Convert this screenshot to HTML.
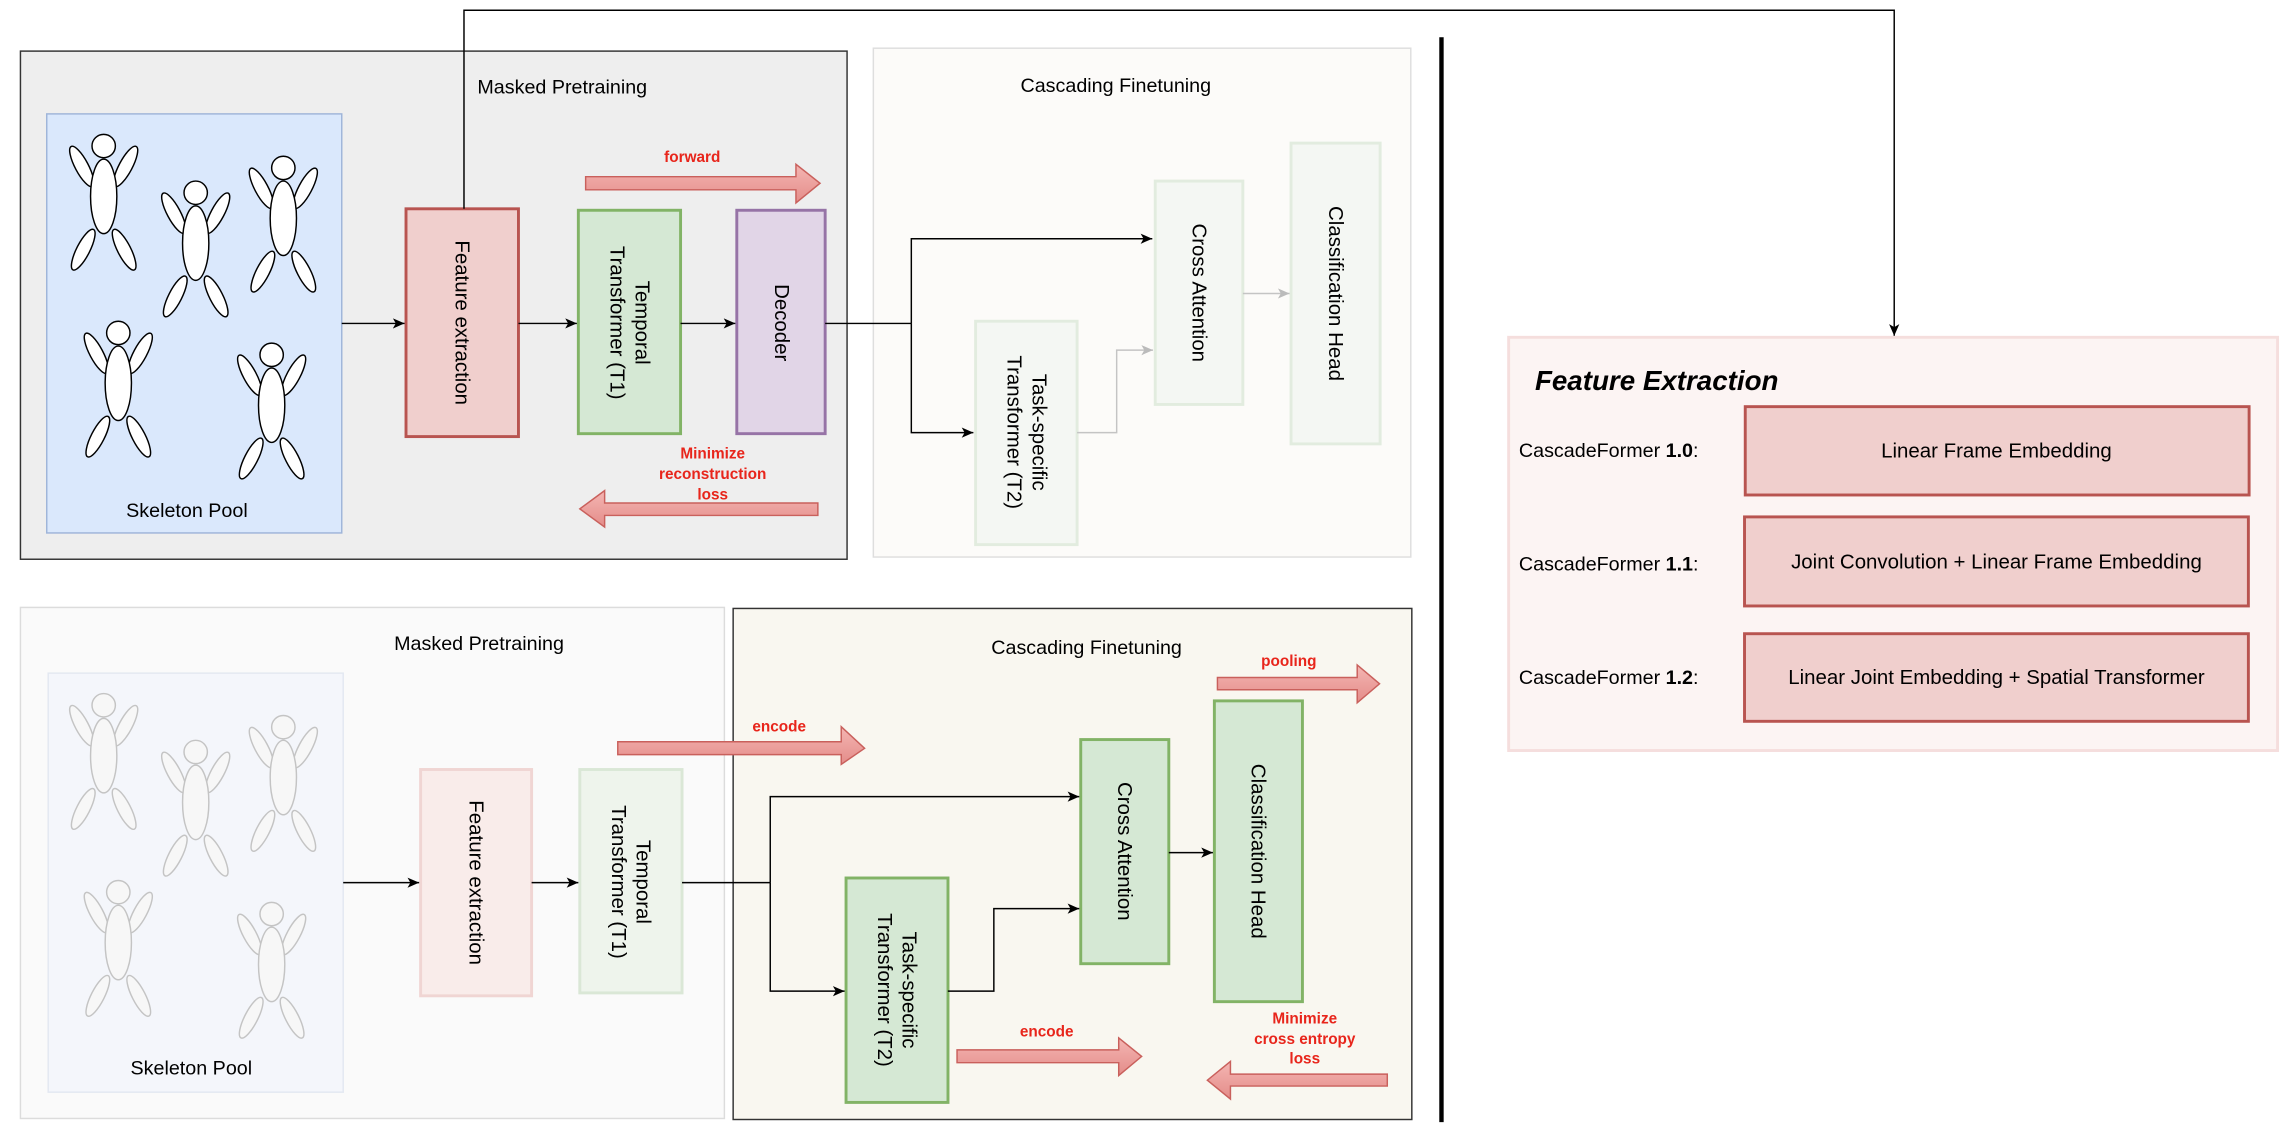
<!DOCTYPE html>
<html><head><meta charset="utf-8"><style>
html,body{margin:0;padding:0;background:#fff;}
svg{display:block;font-family:"Liberation Sans",Arial,sans-serif;}
</style></head><body>
<svg width="2290" height="1136" viewBox="0 0 1568 778" preserveAspectRatio="none" xmlns="http://www.w3.org/2000/svg">
<defs>
<marker id="ab" markerWidth="9" markerHeight="8" refX="8" refY="3.5" orient="auto" markerUnits="userSpaceOnUse"><path d="M0,0 L8,3.5 L0,7 L2,3.5 z" fill="#000"/></marker>
<marker id="ag" markerWidth="9" markerHeight="8" refX="8" refY="3.5" orient="auto" markerUnits="userSpaceOnUse"><path d="M0,0 L8,3.5 L0,7 L2,3.5 z" fill="#bbb"/></marker>
<linearGradient id="rg" x1="0" y1="0" x2="0" y2="1"><stop offset="0" stop-color="#f4b6b3"/><stop offset="1" stop-color="#e48c89"/></linearGradient>
<g id="fig">
<ellipse cx="-15" cy="14" rx="4.5" ry="15.5" transform="rotate(-28 -15 14)"/>
<ellipse cx="15" cy="14" rx="4.5" ry="15.5" transform="rotate(28 15 14)"/>
<ellipse cx="-14" cy="71" rx="4.5" ry="15.5" transform="rotate(27 -14 71)"/>
<ellipse cx="14" cy="71" rx="4.5" ry="15.5" transform="rotate(-27 14 71)"/>
<ellipse cx="0" cy="34.5" rx="9" ry="25.5"/>
<circle cx="0" cy="0" r="8"/>
</g>
</defs>

<!-- top-left panel -->
<rect x="14" y="35" width="566" height="348" fill="#eeeeee" stroke="#333" stroke-width="1"/>
<text x="385" y="64" font-size="13.5" text-anchor="middle">Masked Pretraining</text>
<rect x="32" y="78" width="202" height="287" fill="#dae8fc" stroke="#9fb5d9" stroke-width="1"/>
<g fill="#fff" stroke="#000" stroke-width="1">
<use href="#fig" x="71" y="100"/>
<use href="#fig" x="134" y="132"/>
<use href="#fig" x="194" y="115"/>
<use href="#fig" x="81" y="228"/>
<use href="#fig" x="186" y="243"/>
</g>
<text x="128" y="354" font-size="13.5" text-anchor="middle">Skeleton Pool</text>

<!-- top-right panel -->
<rect x="598" y="33" width="368" height="348.5" fill="#fcfbf9" stroke="#dedede" stroke-width="1"/>
<text x="764" y="63" font-size="13.5" text-anchor="middle">Cascading Finetuning</text>
<rect x="791" y="124" width="60" height="153" fill="#f4f7f3" stroke="#e2ecdf" stroke-width="2"/>
<text transform="translate(821,200.5) rotate(90)" font-size="14" text-anchor="middle" dominant-baseline="central">Cross Attention</text>
<rect x="884" y="98" width="61" height="206" fill="#f4f7f3" stroke="#e2ecdf" stroke-width="2"/>
<text transform="translate(914.5,201) rotate(90)" font-size="14" text-anchor="middle" dominant-baseline="central">Classification Head</text>
<rect x="668" y="220" width="69.5" height="153" fill="#f4f7f3" stroke="#e2ecdf" stroke-width="2"/>
<text transform="translate(703,296) rotate(90)" font-size="14" text-anchor="middle"><tspan x="0" y="-4">Task-specific</tspan><tspan x="0" y="13">Transformer (T2)</tspan></text>
<g stroke="#c4c4c4" stroke-width="1" fill="none">
<polyline points="737.5,296.3 764.6,296.3 764.6,239.8 789.5,239.8" marker-end="url(#ag)"/>
<line x1="851" y1="201" x2="883" y2="201" marker-end="url(#ag)"/>
</g>

<rect x="278" y="143" width="77" height="156" fill="#f0cfcd" stroke="#b85450" stroke-width="2"/>
<text transform="translate(316.5,221) rotate(90)" font-size="14" text-anchor="middle" dominant-baseline="central">Feature extraction</text>
<rect x="396" y="144" width="70" height="153" fill="#d5e8d4" stroke="#82b366" stroke-width="2"/>
<text transform="translate(431,221) rotate(90)" font-size="14" text-anchor="middle"><tspan x="0" y="-4">Temporal</tspan><tspan x="0" y="13">Transformer (T1)</tspan></text>
<rect x="504.5" y="144" width="60.5" height="153" fill="#e1d5e7" stroke="#9673a6" stroke-width="2"/>
<text transform="translate(535,221) rotate(90)" font-size="14" text-anchor="middle" dominant-baseline="central">Decoder</text>

<g stroke="#000" stroke-width="1" fill="none">
<line x1="234" y1="221.5" x2="277" y2="221.5" marker-end="url(#ab)"/>
<line x1="355" y1="221.5" x2="395" y2="221.5" marker-end="url(#ab)"/>
<line x1="466" y1="221.5" x2="503.5" y2="221.5" marker-end="url(#ab)"/>
<polyline points="565,221.5 624,221.5"/>
<polyline points="624,221.5 624,163.5 789,163.5" marker-end="url(#ab)"/>
<polyline points="624,221.5 624,296.3 666.5,296.3" marker-end="url(#ab)"/>
<polyline points="317.7,143 317.7,7 1297,7 1297,230" marker-end="url(#ab)"/>
</g>

<text x="474" y="111" font-size="10.5" font-weight="bold" fill="#e8251b" text-anchor="middle">forward</text>
<path d="M401,121 L545,121 L545,112.5 L561.5,125.5 L545,139 L545,130 L401,130 z" fill="url(#rg)" stroke="#c9605c" stroke-width="1"/>
<text font-size="10.5" font-weight="bold" fill="#e8251b" text-anchor="middle"><tspan x="488" y="314">Minimize</tspan><tspan x="488" y="328">reconstruction</tspan><tspan x="488" y="342">loss</tspan></text>
<path d="M560,344.5 L414,344.5 L414,336 L397,348.5 L414,361 L414,353 L560,353 z" fill="url(#rg)" stroke="#c9605c" stroke-width="1"/>

<!-- divider -->
<rect x="985.5" y="25.5" width="3" height="743" fill="#000"/>

<!-- Feature Extraction panel -->
<rect x="1033" y="231" width="526.5" height="283" fill="#fcf4f3" stroke="#f5dedd" stroke-width="2"/>
<text x="1051" y="267" font-size="19" font-weight="bold" font-style="italic">Feature Extraction</text>
<g fill="#f0cfcd" stroke="#b85450" stroke-width="2">
<rect x="1195" y="278.5" width="345" height="60.5"/>
<rect x="1194.5" y="354" width="345" height="61"/>
<rect x="1194.5" y="434" width="345" height="60"/>
</g>
<g font-size="14" text-anchor="middle" dominant-baseline="central">
<text x="1367" y="309">Linear Frame Embedding</text>
<text x="1367" y="385">Joint Convolution + Linear Frame Embedding</text>
<text x="1367" y="464">Linear Joint Embedding + Spatial Transformer</text>
</g>
<g font-size="13.5" dominant-baseline="central">
<text x="1040" y="309">CascadeFormer <tspan font-weight="bold">1.0</tspan>:</text>
<text x="1040" y="386.5">CascadeFormer <tspan font-weight="bold">1.1</tspan>:</text>
<text x="1040" y="464.5">CascadeFormer <tspan font-weight="bold">1.2</tspan>:</text>
</g>

<!-- bottom-left panel -->
<rect x="14" y="416" width="482" height="350" fill="#fafafa" stroke="#dcdcdc" stroke-width="1"/>
<text x="328" y="445" font-size="13.5" text-anchor="middle">Masked Pretraining</text>
<rect x="33" y="461" width="202" height="287" fill="#f4f6fb" stroke="#e3e8f1" stroke-width="1"/>
<g fill="#f7f7f7" stroke="#c4c4c4" stroke-width="1">
<use href="#fig" x="71" y="483"/>
<use href="#fig" x="134" y="515"/>
<use href="#fig" x="194" y="498"/>
<use href="#fig" x="81" y="611"/>
<use href="#fig" x="186" y="626"/>
</g>
<text x="131" y="736" font-size="13.5" text-anchor="middle">Skeleton Pool</text>
<rect x="288" y="527" width="76" height="155" fill="#f9ecea" stroke="#f0d5d3" stroke-width="2"/>
<text transform="translate(326,604.5) rotate(90)" font-size="14" text-anchor="middle" dominant-baseline="central">Feature extraction</text>
<rect x="397" y="527" width="70" height="153" fill="#eef4ec" stroke="#dae7d6" stroke-width="2"/>
<text transform="translate(432,604) rotate(90)" font-size="14" text-anchor="middle"><tspan x="0" y="-4">Temporal</tspan><tspan x="0" y="13">Transformer (T1)</tspan></text>
<g stroke="#000" stroke-width="1" fill="none">
<line x1="235" y1="604.5" x2="287" y2="604.5" marker-end="url(#ab)"/>
<line x1="364" y1="604.5" x2="396" y2="604.5" marker-end="url(#ab)"/>
</g>

<!-- bottom-right panel -->
<rect x="502" y="416.7" width="464.7" height="350" fill="#f9f7f0" stroke="#333" stroke-width="1"/>
<text x="744" y="448" font-size="13.5" text-anchor="middle">Cascading Finetuning</text>
<rect x="740" y="506.5" width="60.3" height="153.5" fill="#d5e8d4" stroke="#82b366" stroke-width="2"/>
<text transform="translate(770,583) rotate(90)" font-size="14" text-anchor="middle" dominant-baseline="central">Cross Attention</text>
<rect x="831.5" y="480" width="60.3" height="206" fill="#d5e8d4" stroke="#82b366" stroke-width="2"/>
<text transform="translate(861.5,583) rotate(90)" font-size="14" text-anchor="middle" dominant-baseline="central">Classification Head</text>
<rect x="579.3" y="601.3" width="69.8" height="153.7" fill="#d5e8d4" stroke="#82b366" stroke-width="2"/>
<text transform="translate(614,678) rotate(90)" font-size="14" text-anchor="middle"><tspan x="0" y="-4">Task-specific</tspan><tspan x="0" y="13">Transformer (T2)</tspan></text>
<g stroke="#000" stroke-width="1" fill="none">
<polyline points="467,604.5 527.4,604.5"/>
<polyline points="527.4,604.5 527.4,545.6 739,545.6" marker-end="url(#ab)"/>
<polyline points="527.4,604.5 527.4,678.8 578.3,678.8" marker-end="url(#ab)"/>
<polyline points="649,678.8 680.5,678.8 680.5,622.3 739,622.3" marker-end="url(#ab)"/>
<line x1="800.3" y1="583.9" x2="830.5" y2="583.9" marker-end="url(#ab)"/>
</g>

<text x="533.5" y="501" font-size="10.5" font-weight="bold" fill="#e8251b" text-anchor="middle">encode</text>
<path d="M423,508 L576,508 L576,497.7 L592,512.5 L576,523.5 L576,516.8 L423,516.8 z" fill="url(#rg)" stroke="#c9605c" stroke-width="1"/>
<text x="882.5" y="456" font-size="10.5" font-weight="bold" fill="#e8251b" text-anchor="middle">pooling</text>
<path d="M833.6,464 L929.3,464 L929.3,455.4 L944.6,468.3 L929.3,481.3 L929.3,472.4 L833.6,472.4 z" fill="url(#rg)" stroke="#c9605c" stroke-width="1"/>
<text x="716.7" y="710" font-size="10.5" font-weight="bold" fill="#e8251b" text-anchor="middle">encode</text>
<path d="M655.3,719 L766,719 L766,710.8 L781.7,723.5 L766,736.6 L766,727.8 L655.3,727.8 z" fill="url(#rg)" stroke="#c9605c" stroke-width="1"/>
<text font-size="10.5" font-weight="bold" fill="#e8251b" text-anchor="middle"><tspan x="893.4" y="701">Minimize</tspan><tspan x="893.4" y="715">cross entropy</tspan><tspan x="893.4" y="728.5">loss</tspan></text>
<path d="M949.9,735.6 L842.5,735.6 L842.5,726.9 L826.7,739.8 L842.5,752.7 L842.5,743.8 L949.9,743.8 z" fill="url(#rg)" stroke="#c9605c" stroke-width="1"/>
</svg>
</body></html>
